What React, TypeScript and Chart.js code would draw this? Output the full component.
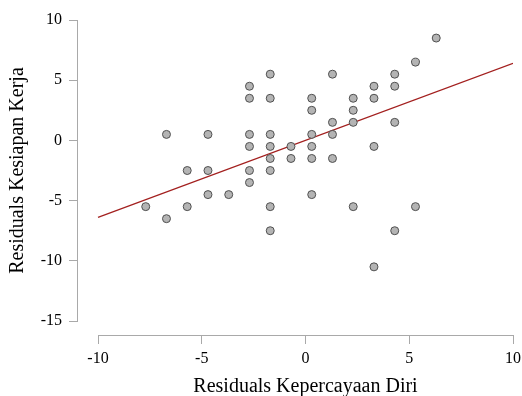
import React, { useEffect, useRef } from 'react';
import { Chart, registerables } from 'chart.js';

Chart.register(...registerables);

// Scatter points: residuals of "Kepercayaan Diri" (x) vs "Kesiapan Kerja" (y)
const pointX = [
  -7.7,
  -6.7, -6.7,
  -5.7, -5.7,
  -4.7, -4.7, -4.7,
  -3.7,
  -2.7, -2.7, -2.7, -2.7, -2.7, -2.7,
  -1.7, -1.7, -1.7, -1.7, -1.7, -1.7, -1.7, -1.7,
  -0.7, -0.7,
  0.3, 0.3, 0.3, 0.3, 0.3, 0.3,
  1.3, 1.3, 1.3, 1.3,
  2.3, 2.3, 2.3, 2.3,
  3.3, 3.3, 3.3, 3.3,
  4.3, 4.3, 4.3, 4.3,
  5.3, 5.3,
  6.3,
];
const pointY = [
  -5.5,
  0.5, -6.5,
  -2.5, -5.5,
  0.5, -2.5, -4.5,
  -4.5,
  4.5, 3.5, 0.5, -0.5, -2.5, -3.5,
  5.5, 3.5, 0.5, -0.5, -1.5, -2.5, -5.5, -7.5,
  -0.5, -1.5,
  3.5, 2.5, 0.5, -0.5, -1.5, -4.5,
  5.5, 1.5, 0.5, -1.5,
  3.5, 2.5, 1.5, -5.5,
  4.5, 3.5, -0.5, -10.5,
  5.5, 4.5, 1.5, -7.5,
  6.5, -5.5,
  8.5,
];

// Regression line end points
const lineX = [-10, 10];
const lineY = [-6.4, 6.4];

const xTicks = [-10, -5, 0, 5, 10];
const yTicks = [-15, -10, -5, 0, 5, 10];

const xTitle = 'Residuals Kepercayaan Diri';
const yTitle = 'Residuals Kesiapan Kerja';

const FONT = '"Liberation Serif", "Times New Roman", serif';
const AXIS_COLOR = '#a9a9a9';

const rangeFrame = {
  id: 'rangeFrame',
  afterDraw(chart: any) {
    const { ctx, chartArea } = chart;
    const xs = chart.scales.x;
    const ys = chart.scales.y;
    ctx.save();
    ctx.strokeStyle = AXIS_COLOR;
    ctx.lineWidth = 1;
    ctx.beginPath();
    const lx = Math.round(chartArea.left) - 0.5;
    ctx.moveTo(lx, Math.round(ys.getPixelForValue(yTicks[0])) + 0.5);
    ctx.lineTo(lx, Math.round(ys.getPixelForValue(yTicks[yTicks.length - 1])));
    const by = Math.round(chartArea.bottom) + 0.5;
    ctx.moveTo(Math.round(xs.getPixelForValue(xTicks[0])), by);
    ctx.lineTo(Math.round(xs.getPixelForValue(xTicks[xTicks.length - 1])) + 1, by);
    ctx.stroke();

    // axis titles, centred on the tick range of each axis
    ctx.fillStyle = '#000';
    ctx.font = `20px ${FONT}`;
    ctx.textAlign = 'center';
    ctx.textBaseline = 'middle';
    const xMid = (xs.getPixelForValue(xTicks[0]) + xs.getPixelForValue(xTicks[xTicks.length - 1])) / 2;
    ctx.fillText(xTitle, xMid, xs.bottom - 9);
    const yMid = (ys.getPixelForValue(yTicks[0]) + ys.getPixelForValue(yTicks[yTicks.length - 1])) / 2;
    ctx.translate(ys.left + 18, yMid);
    ctx.rotate(-Math.PI / 2);
    ctx.fillText(yTitle, 0, 0);
    ctx.restore();
  },
};

export default function App() {
  const canvasRef = useRef<HTMLCanvasElement | null>(null);

  useEffect(() => {
    const canvas = canvasRef.current;
    if (!canvas) return;
    const chart = new Chart(canvas, {
      type: 'scatter',
      data: {
        datasets: [
          {
            type: 'scatter',
            data: pointX.map((x, i) => ({ x, y: pointY[i] })),
            pointRadius: 4,
            pointBackgroundColor: '#b4b4b4',
            pointBorderColor: '#505050',
            pointBorderWidth: 1,
            order: 0,
          },
          {
            type: 'line',
            data: lineX.map((x, i) => ({ x, y: lineY[i] })),
            borderColor: '#a3201f',
            borderWidth: 1.3,
            pointRadius: 0,
            fill: false,
            order: 1,
          },
        ],
      } as any,
      options: {
        responsive: false,
        animation: false,
        layout: { padding: { top: 20, right: 9, left: 0, bottom: 0 } },
        plugins: {
          legend: { display: false },
          tooltip: { enabled: false },
          title: { display: false },
        },
        scales: {
          x: {
            type: 'linear',
            min: -10.964,
            max: 10,
            afterBuildTicks: (axis: any) => {
              axis.ticks = xTicks.map((v) => ({ value: v }));
            },
            afterFit: (axis: any) => {
              axis.height = 61;
              axis.paddingLeft = 0;
              axis.paddingRight = 0;
            },
            border: { display: false },
            grid: {
              drawOnChartArea: false,
              drawTicks: true,
              tickLength: 9,
              color: AXIS_COLOR,
            },
            ticks: {
              padding: 5,
              color: '#000',
              font: { family: FONT, size: 16 },
              maxRotation: 0,
              autoSkip: false,
              callback: (v: any) => String(v),
            },
            title: { display: false },
          },
          y: {
            type: 'linear',
            min: -16.16,
            max: 10,
            afterBuildTicks: (axis: any) => {
              axis.ticks = yTicks.map((v) => ({ value: v }));
            },
            afterFit: (axis: any) => {
              axis.width = 78;
              axis.paddingTop = 0;
              axis.paddingBottom = 0;
            },
            border: { display: false },
            grid: {
              drawOnChartArea: false,
              drawTicks: true,
              tickLength: 9,
              color: AXIS_COLOR,
            },
            ticks: {
              padding: 7,
              color: '#000',
              font: { family: FONT, size: 16 },
              autoSkip: false,
              callback: (v: any) => String(v),
            },
            title: { display: false },
          },
        },
      } as any,
      plugins: [rangeFrame],
    });
    return () => chart.destroy();
  }, []);

  return (
    <div style={{ position: 'fixed', left: 0, top: 0, width: 522, height: 396, background: '#fff' }}>
      <canvas ref={canvasRef} width={522} height={396} style={{ display: 'block' }} />
    </div>
  );
}
